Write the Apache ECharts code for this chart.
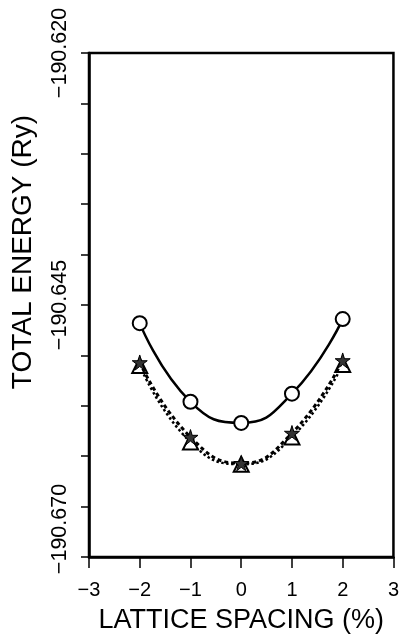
<!DOCTYPE html>
<html>
<head>
<meta charset="utf-8">
<script src="https://cdn.jsdelivr.net/npm/echarts@6/dist/echarts.min.js"></script>
<style>
html,body{margin:0;padding:0;background:#fff;}
#chart{width:402px;height:639px;}
</style>
</head>
<body>
<div id="chart"></div>
<script>
const latticeSpacing = [-2, -1, 0, 1, 2];
const energyCircle = [-190.6468, -190.6546, -190.6567, -190.6538, -190.6464];
const energyStar = [-190.6507, -190.6581, -190.6607, -190.6577, -190.6505];
const energyTriangle = [-190.6510, -190.6586, -190.6608, -190.6581, -190.6509];
const yLabelValues = [-190.670, -190.645, -190.620];
const yLabelTexts = ['\u2212190.670', '\u2212190.645', '\u2212190.620'];
const xTitle = 'LATTICE SPACING (%)';
const yTitle = 'TOTAL ENERGY (Ry)';

const FONT = 'Liberation Sans';
const pair = (ys) => latticeSpacing.map((x, i) => [x, ys[i]]);
const starPath = 'path://M50,0 L61,35 L98,35 L68,57 L79,91 L50,70 L21,91 L32,57 L2,35 L39,35 Z';

const chart = echarts.init(document.getElementById('chart'), null, {renderer: 'canvas'});
chart.setOption({
  animation: false,
  backgroundColor: '#fff',
  grid: {left: 89, right: 6, top: 53, bottom: 78, show: true, borderColor: '#000', borderWidth: 2.5, backgroundColor: 'transparent'},
  xAxis: {
    type: 'value', min: -3, max: 3, interval: 1,
    name: xTitle, nameLocation: 'middle', nameGap: 50,
    nameTextStyle: {fontFamily: FONT, fontSize: 27, color: '#000'},
    axisLine: {show: true, onZero: false, lineStyle: {color: '#000', width: 2.5}},
    axisTick: {show: true, inside: false, length: 11, lineStyle: {color: '#000', width: 1.5}},
    axisLabel: {fontFamily: FONT, fontSize: 20, color: '#000', margin: 23,
      formatter: v => (v < 0 ? '\u2212' + Math.abs(v) : String(v))},
    splitLine: {show: false}
  },
  yAxis: {
    type: 'value', min: -190.670, max: -190.620, interval: 0.005,
    axisLine: {show: true, onZero: false, lineStyle: {color: '#000', width: 2.5}},
    axisTick: {show: true, inside: false, length: 8, lineStyle: {color: '#000', width: 1.5}},
    axisLabel: {fontFamily: FONT, fontSize: 21.5, color: '#000', rotate: 90, margin: 18,
      formatter: v => {
        const k = yLabelValues.findIndex(t => Math.abs(t - v) < 1e-6);
        if (k < 0) return '';
        return k === 0 ? '{low|' + yLabelTexts[k] + '}' : yLabelTexts[k];
      },
      rich: {low: {fontFamily: FONT, fontSize: 21.5, color: '#000', padding: [0, 0, 0, 56]}}
    },
    splitLine: {show: false}
  },
  graphic: [{
    type: 'text', rotation: Math.PI / 2, x: 23, y: 252,
    style: {text: yTitle, font: '28px "Liberation Sans"', fill: '#000', textAlign: 'center', textVerticalAlign: 'middle'}
  }],
  series: [
    {type: 'line', data: pair(energyCircle), smooth: 0.5, symbol: 'emptyCircle', symbolSize: 14,
      lineStyle: {color: '#000', width: 2.5, type: 'solid'},
      itemStyle: {color: '#000', borderWidth: 1.5}, z: 3},
    {type: 'line', data: pair(energyStar), smooth: 0.5, symbol: starPath, symbolSize: 15,
      lineStyle: {color: '#000', width: 3, type: [4, 3]},
      itemStyle: {color: '#333', borderColor: '#000', borderWidth: 1}, z: 4},
    {type: 'line', data: pair(energyTriangle), smooth: 0.5, symbol: 'emptyTriangle', symbolSize: 15,
      lineStyle: {color: '#000', width: 2.5, type: 'dotted'},
      itemStyle: {color: '#000', borderWidth: 1.5}, z: 3}
  ]
});
</script>
</body>
</html>
